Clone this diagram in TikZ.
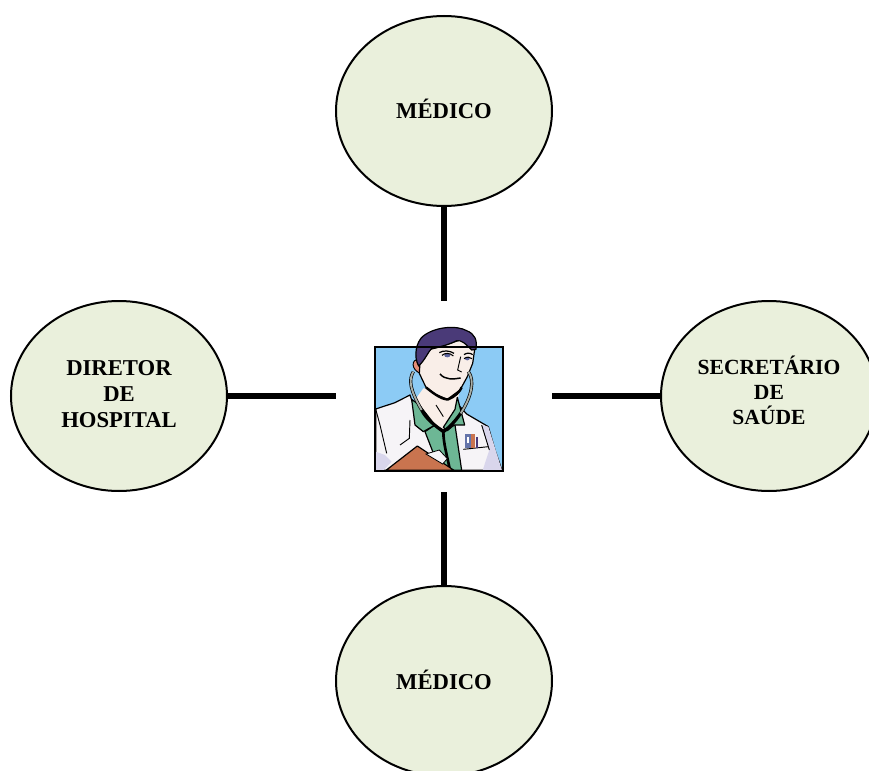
\documentclass[tikz,border=0pt]{standalone}
\usepackage{fontspec}
\setmainfont{Liberation Serif}
\usetikzlibrary{shapes.geometric}
\definecolor{bubble}{HTML}{EAF0DC}
\definecolor{sky}{HTML}{8CCBF5}
\definecolor{coat}{HTML}{F6F4F7}
\definecolor{coatshade}{HTML}{D9D6EC}
\definecolor{skin}{HTML}{F9EEE8}
\definecolor{hair}{HTML}{4A3A78}
\definecolor{shirt}{HTML}{6DB795}
\definecolor{board}{HTML}{C9744F}
\definecolor{tube}{HTML}{A9AFA8}
\definecolor{ear}{HTML}{E58E78}
\tikzset{
  x=0.75pt,y=-0.75pt,
  bubblenode/.style={draw=black,line width=1.5pt,fill=bubble,ellipse,minimum width=162pt,minimum height=142.5pt,inner sep=0pt},
  bubbletext/.style={font=\bfseries\fontsize{17}{19.5}\selectfont,align=center,inner sep=0pt,text=black},
  bubbletextsmall/.style={bubbletext,font=\bfseries\fontsize{16.2}{18.8}\selectfont},
  spoke/.style={line width=5.2pt,black},
  ink/.style={draw=black,line width=0.9pt,line join=round},
}
\begin{document}
\begin{tikzpicture}
\useasboundingbox (0,0) rectangle (869,771);
\clip (0,0) rectangle (869,771);
\fill[white] (0,0) rectangle (869,771);
\coordinate (topend) at (444,301);
\coordinate (bottomend) at (444,492);
\coordinate (leftend) at (336,396);
\coordinate (rightend) at (552,396);
\node[bubblenode] (top) at (444,111) {};
\node[bubblenode] (bottom) at (444,681) {};
\node[bubblenode] (left) at (119,396) {};
\node[bubblenode] (right) at (769,396) {};
\draw[spoke] (top.south) -- (topend);
\draw[spoke] (bottomend) -- (bottom.north);
\draw[spoke] (left.east) -- (leftend);
\draw[spoke] (rightend) -- (right.west);
\node[bubbletext] (toplabel) at (444,109) {MÉDICO};
\node[bubbletext] (bottomlabel) at (444,680) {MÉDICO};
\node[bubbletext] (leftlabel) at (119,394.5) {DIRETOR\\DE\\HOSPITAL};
\node[bubbletextsmall] (rightlabel) at (769,390.5) {SECRETÁRIO\\DE\\SAÚDE};
% doctor illustration, in units of a third of a pixel
\begin{scope}[shift={(360,310)},x=0.25pt,y=-0.25pt]
  \fill[sky] (45,112) rectangle (428,483);
  % coat
  \path[ink,fill=coat] (47,297) -- (105,278) -- (150,255) -- (165,300) -- (300,290) -- (320,312) -- (385,350) -- (405,420) -- (426,481) -- (47,481) -- cycle;
  \fill[coatshade] (365,345) -- (385,350) -- (426,481) -- (368,481) -- (388,420) -- cycle;
  \fill[coatshade] (47,425) -- (75,435) -- (95,455) -- (70,481) -- (47,481) -- cycle;
  \draw[black,line width=0.7pt] (47,297) -- (60,345) -- (80,430);
  \draw[black,line width=0.7pt] (150,330) -- (148,385) -- (120,405);
  \draw[black,line width=0.7pt] (365,345) -- (388,420);
  % neck
  \path[fill=skin] (190,235) -- (165,270) -- (225,345) -- (250,358) -- (285,300) -- (300,240) -- cycle;
  % shirt: tie and collar flaps
  \path[ink,fill=shirt] (195,365) -- (225,345) -- (250,360) -- (285,345) -- (305,481) -- (240,481) -- cycle;
  \path[ink,fill=shirt] (155,268) -- (165,345) -- (190,365) -- (225,345) -- (178,285) -- cycle;
  \path[ink,fill=shirt] (292,262) -- (314,345) -- (282,345) -- (262,362) -- (250,352) -- (285,298) -- cycle;
  \draw[black,line width=0.7pt] (228,285) -- (250,320);
  % face
  \path[fill=ear,draw=black,line width=0.7pt] (175,150) .. controls (155,145) and (150,180) .. (185,192) -- cycle;
  \path[ink,fill=skin] (182,125) -- (235,112) -- (300,90) -- (345,112) -- (338,160) -- (322,200) -- (300,240) -- (262,268) -- (225,252) -- (198,232) -- (178,190) -- cycle;
  \draw[black,line width=1.8pt] (198,232) .. controls (225,255) and (250,270) .. (265,268) .. controls (285,260) and (300,245) .. (305,232);
  % hair
  \path[ink,fill=hair] (176,168) .. controls (160,140) and (168,95) .. (190,78) .. controls (225,50) and (290,45) .. (320,62) .. controls (345,72) and (352,90) .. (348,118) -- (335,120) .. controls (315,100) and (305,90) .. (290,92) .. controls (265,105) and (235,112) .. (215,115) .. controls (205,125) and (195,150) .. (176,168) -- cycle;
  % features
  \draw[black,line width=0.9pt] (238,128) .. controls (250,120) and (270,122) .. (282,130);
  \draw[black,line width=0.9pt] (312,134) .. controls (320,128) and (330,128) .. (338,134);
  \fill[hair!70!sky] (262,136) ellipse [x radius=9, y radius=6];
  \fill[hair!70!sky] (322,146) ellipse [x radius=7, y radius=5];
  \draw[black,line width=0.8pt] (246,136) .. controls (255,128) and (270,128) .. (280,138);
  \draw[black,line width=0.8pt] (312,146) .. controls (320,140) and (330,140) .. (336,146);
  \draw[black,line width=0.7pt] (302,140) -- (293,180) -- (305,186);
  \draw[black,line width=1.1pt] (240,192) .. controls (255,210) and (280,208) .. (302,204);
  % stethoscope
  \draw[black,line width=2.4pt] (160,185) .. controls (145,210) and (150,240) .. (185,300) .. controls (200,330) and (230,350) .. (250,365);
  \draw[tube,line width=1.4pt] (160,185) .. controls (145,210) and (150,240) .. (185,300);
  \draw[black,line width=2.4pt] (325,185) .. controls (345,210) and (335,260) .. (302,310) .. controls (285,335) and (265,355) .. (250,365);
  \draw[tube,line width=1.4pt] (325,185) .. controls (345,210) and (335,260) .. (302,310);
  \draw[black,line width=2pt] (250,365) .. controls (250,400) and (262,440) .. (270,481);
  % pocket
  \draw[black,line width=0.7pt] (310,418) -- (385,410);
  \fill[hair!60!sky] (315,372) rectangle (332,415);
  \fill[board] (334,372) rectangle (345,415);
  \fill[hair] (347,380) rectangle (355,415);
  \fill[white] (322,382) rectangle (328,400);
  % clipboard
  \path[ink,fill=board] (78,481) -- (172,408) -- (282,481) -- cycle;
  \path[draw=black,line width=0.6pt,fill=coat] (198,432) -- (238,420) -- (262,446) -- (248,462) -- cycle;
  % frame
  \draw[black,line width=1.5pt] (45,112) rectangle (428,483);
\end{scope}
\end{tikzpicture}
\end{document}
